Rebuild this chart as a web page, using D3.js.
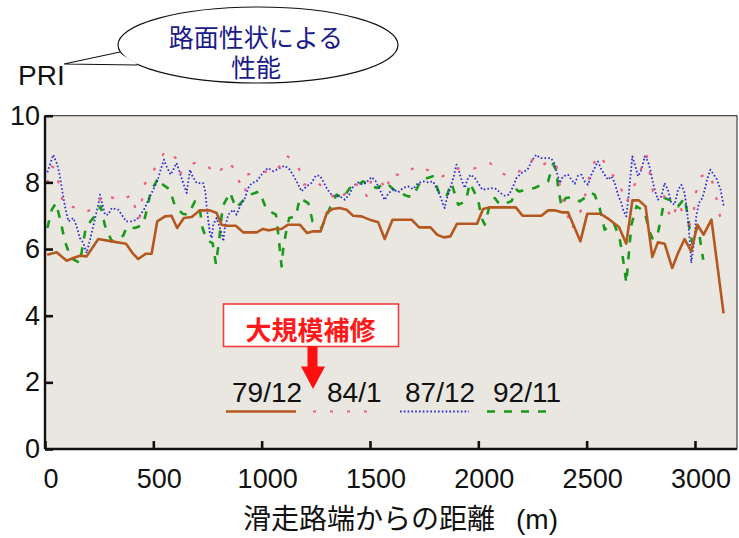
<!DOCTYPE html>
<html><head><meta charset="utf-8">
<script src="https://cdn.jsdelivr.net/npm/d3@7"></script>
<style>
html,body{margin:0;padding:0;background:#fff;}
svg{display:block;}
</style></head>
<body><svg id="c" width="739" height="538"></svg>
<script>
// ---- data ----
const xTicks = [0, 500, 1000, 1500, 2000, 2500, 3000];
const yTicks = [0, 2, 4, 6, 8, 10];
const seriesNames = ["79/12", "84/1", "87/12", "92/11"];

const dist79 = [10,54,100,131,161,192,246,308,374,404,430,466,492,518,554,584,610,641,677,715,761,792,815,838,881,915,977,1004,1035,1061,1092,1122,1176,1210,1238,1272,1302,1327,1361,1392,1422,1461,1507,1538,1568,1604,1692,1727,1779,1810,1841,1871,1902,1994,2022,2053,2173,2204,2291,2322,2353,2384,2414,2471,2503,2563,2606,2649,2683,2711,2741,2772,2803,2829,2860,2895,2922,2952,2983,3011,3040,3076,3132];
const pri79  = [5.83,5.9,5.65,5.73,5.8,5.78,6.3,6.23,6.16,5.88,5.7,5.86,5.86,6.83,6.98,7.0,6.63,6.93,6.96,7.16,7.16,7.08,6.73,6.7,6.7,6.5,6.5,6.6,6.56,6.6,6.6,6.73,6.73,6.48,6.53,6.53,7.1,7.2,7.23,7.18,7.0,6.98,6.86,6.8,6.3,6.88,6.88,6.65,6.65,6.43,6.35,6.38,6.76,6.76,7.2,7.25,7.25,7.0,7.0,7.16,7.16,7.1,7.1,6.23,7.06,7.06,6.88,6.66,6.16,7.46,7.46,7.28,5.76,6.2,6.16,5.43,5.88,6.3,5.93,6.73,6.43,6.88,4.07];

const dist84 = [11,31,54,66,88,123,180,235,266,346,404,420,435,446,458,538,554,589,610,626,666,700,743,792,846,887,907,923,933,992,1066,1112,1169,1195,1253,1300,1358,1415,1461,1487,1507,1548,1576,1595,1645,1718,1791,1835,1891,1930,1973,2053,2107,2142,2183,2260,2296,2330,2361,2384,2407,2430,2483,2499,2518,2533,2560,2603,2652,2683,2711,2737,2776,2806,2852,2875,2898,2918,2976,2995,3004,3029,3063,3082,3101,3117];
const pri84  = [7.98,8.48,8.38,7.83,7.3,7.28,7.1,7.23,7.66,7.45,7.63,7.1,6.88,7.4,7.93,8.73,8.96,8.8,8.7,8.28,8.53,8.6,8.53,8.23,8.63,8.28,7.73,7.68,8.23,8.33,8.3,8.83,8.48,7.93,8.03,7.73,7.43,7.93,7.93,7.56,8.1,8.08,7.73,8.28,8.2,8.5,8.3,8.18,8.4,8.43,8.4,8.58,8.28,8.18,8.3,8.73,8.5,8.68,8.48,7.63,7.13,6.58,7.28,7.8,8.33,8.58,8.83,8.38,7.93,7.38,7.78,8.16,8.83,7.73,7.73,7.13,6.88,7.4,6.73,7.16,7.68,8.18,8.28,7.98,7.46,6.93];

const dist87 = [11,38,57,69,84,92,108,131,146,161,177,192,208,226,246,254,277,292,308,338,354,374,400,423,441,461,477,492,507,523,534,549,561,580,592,607,623,638,654,669,681,700,730,741,746,753,761,769,777,792,815,823,830,846,869,884,907,923,938,954,977,1007,1030,1053,1084,1107,1130,1153,1169,1184,1207,1230,1250,1269,1284,1300,1315,1330,1361,1384,1404,1422,1445,1466,1484,1507,1527,1545,1568,1584,1607,1630,1653,1676,1699,1722,1745,1768,1791,1807,1822,1838,1845,1853,1868,1887,1899,1911,1922,1938,1949,1964,1984,1999,2019,2038,2061,2084,2102,2122,2142,2161,2176,2199,2227,2250,2268,2284,2307,2335,2350,2361,2376,2391,2414,2430,2445,2460,2476,2491,2506,2522,2537,2552,2568,2583,2598,2614,2629,2645,2660,2671,2683,2695,2702,2711,2727,2737,2753,2768,2783,2794,2806,2819,2829,2845,2860,2875,2891,2906,2922,2937,2952,2963,2972,2979,2983,2991,2999,3006,3018,3034,3045,3056,3071,3087,3102,3118,3133];
const pri87  = [8.3,8.83,8.53,8.18,7.58,7.28,6.83,6.93,6.68,6.33,6.18,5.88,6.28,6.78,7.33,7.63,7.03,7.03,7.23,7.18,7.03,6.83,6.83,6.88,7.03,7.23,7.48,7.68,7.88,8.13,8.38,8.68,8.48,8.23,8.38,8.58,8.28,7.98,7.68,8.38,8.18,7.98,7.98,7.68,7.28,6.88,6.48,6.33,6.73,6.93,6.48,6.23,6.63,7.03,7.18,7.03,7.38,7.53,7.83,7.98,8.03,8.3,8.43,8.33,8.43,8.5,8.38,8.13,7.93,7.73,7.88,7.98,8.2,8.2,8.03,7.83,7.68,7.6,7.58,7.48,7.63,7.88,8.0,7.93,8.0,8.16,8.03,7.78,7.47,7.66,7.8,7.7,7.83,7.88,7.8,7.98,8.03,8.0,8.03,7.83,7.63,7.33,7.23,7.48,7.78,8.18,8.53,8.33,8.08,7.83,8.08,8.23,8.13,7.98,7.78,7.8,7.83,7.8,7.68,7.6,7.63,7.88,8.13,8.28,8.38,8.68,8.83,8.73,8.73,8.73,8.58,8.33,7.98,8.18,8.23,8.08,7.96,8.2,8.23,8.03,7.93,8.23,8.43,8.63,8.38,8.23,8.08,8.18,8.0,7.63,7.38,7.13,6.98,7.68,8.18,8.78,8.43,8.18,8.38,8.78,8.63,8.38,7.98,7.68,7.48,7.58,7.98,7.78,7.38,7.33,7.78,7.93,7.68,7.18,6.58,5.98,5.58,5.98,6.38,6.98,7.38,7.53,7.78,8.08,8.38,8.23,8.08,7.78,7.28];

const dist92 = [11,31,51,72,92,119,161,174,189,231,257,277,308,361,377,415,453,472,488,523,534,577,600,635,661,692,715,727,746,774,789,804,820,854,881,930,946,989,1023,1066,1076,1084,1092,1099,1112,1127,1158,1176,1215,1235,1276,1315,1346,1376,1407,1435,1468,1502,1530,1560,1576,1619,1676,1699,1737,1791,1822,1853,1876,1907,1942,1961,1999,2015,2030,2053,2076,2099,2153,2176,2188,2260,2322,2345,2361,2368,2384,2403,2437,2468,2522,2537,2560,2583,2606,2625,2652,2665,2676,2683,2691,2699,2707,2730,2768,2787,2806,2829,2845,2860,2898,2922,2952,2967,2976,2988,2999,3015,3026,3038];
const pri92  = [6.63,7.18,7.38,6.83,6.23,5.73,5.58,6.1,6.66,7.0,7.28,6.7,6.23,6.4,6.66,6.63,6.73,7.23,7.73,8.13,7.98,7.78,7.28,7.06,7.03,7.43,7.18,6.63,6.28,6.17,5.55,6.28,7.28,7.7,7.23,7.56,7.63,7.73,7.18,7.03,6.48,5.98,5.48,5.98,6.48,6.93,6.98,7.53,7.38,6.83,6.63,7.23,7.63,7.53,7.83,7.88,8.03,7.9,7.83,7.93,7.98,7.73,7.58,7.58,8.08,8.18,7.63,7.58,7.98,7.33,7.43,7.98,7.48,6.93,6.73,7.33,7.53,7.33,7.43,7.78,7.73,7.83,8.03,8.55,8.35,7.85,7.28,7.53,7.56,7.43,7.68,7.63,7.23,6.58,6.68,6.78,6.33,5.83,5.33,4.98,5.58,6.18,6.73,7.28,7.13,6.58,6.28,6.48,6.98,7.53,7.43,7.28,7.53,6.98,6.58,6.18,6.48,6.68,6.18,5.68];

// ---- layout ----
const svg = d3.select("#c");
const L = 45, R = 737, T = 115.7, B = 449;
const x = d3.scaleLinear().domain([0, 3194]).range([L, R]);
const y = d3.scaleLinear().domain([0, 10]).range([B, T]);
const latin = "'Liberation Sans', Arial, Helvetica, sans-serif";
const cjk = "'Noto Sans CJK JP', 'Noto Sans CJK SC', sans-serif";

// plot background
svg.append("rect").attr("x", L).attr("y", T).attr("width", R - L).attr("height", B - T)
  .attr("fill", "#eae7e1").attr("stroke", "#222").attr("stroke-width", 1);

// series
const series = [
  {d: dist79, v: pri79, color: "#b4581f", w: 2.6, dash: null},
  {d: dist84, v: pri84, color: "#ef5a80", w: 2.2, dash: "3,14"},
  {d: dist87, v: pri87, color: "#2a2ad8", w: 1.8, dash: "1.6,2.2"},
  {d: dist92, v: pri92, color: "#1a9a1a", w: 2.6, dash: "8,9"}
];
const line = d3.line().x(p => x(p[0])).y(p => y(p[1]));
const g = svg.append("g");
series.slice().reverse().forEach(s => {
  g.append("path").datum(d3.zip(s.d, s.v))
    .attr("d", line).attr("fill", "none")
    .attr("stroke", s.color).attr("stroke-width", s.w)
    .attr("stroke-dasharray", s.dash)
    .attr("stroke-linejoin", "round");
});

// axes
const yAxis = d3.axisLeft(y).tickValues(yTicks).tickSize(-8).tickPadding(5).tickFormat(d3.format("d"));
const gy = svg.append("g").attr("transform", `translate(${L},0)`).call(yAxis);
const xAxis = d3.axisBottom(x).tickValues(xTicks).tickSize(-8).tickPadding(20).tickFormat(d3.format("d"));
const gx = svg.append("g").attr("transform", `translate(0,${B})`).call(xAxis);
[gx, gy].forEach(a => {
  a.select(".domain").attr("stroke", "#111").attr("stroke-width", 2.4);
  a.selectAll(".tick line").attr("stroke", "#111").attr("stroke-width", 2.6);
  a.selectAll("text").attr("font-family", latin).attr("font-size", 27).attr("fill", "#111");
});
gx.selectAll(".tick text").attr("dx", 5.5);
gy.select(".domain").attr("d", `M0,${T}V${B}`);
gx.select(".domain").attr("d", `M${L},0H${R}`);

// axis titles
svg.append("text").attr("x", 18).attr("y", 85).attr("font-family", latin).attr("font-size", 28)
  .attr("fill", "#111").text("PRI");
const xTitle = svg.append("text").attr("y", 529).attr("fill", "#111");
xTitle.append("tspan").attr("x", 243).attr("font-family", cjk).attr("font-size", 28).text("滑走路端からの距離");
xTitle.append("tspan").attr("x", 516).attr("font-family", latin).attr("font-size", 28).text("(m)");

// callout bubble
svg.append("ellipse").attr("cx", 258).attr("cy", 45).attr("rx", 140).attr("ry", 38)
  .attr("fill", "#fff").attr("stroke", "#111").attr("stroke-width", 1.2);
svg.append("path").attr("d", "M119,53 L66,64 L138,64").attr("fill", "#fff").attr("stroke", "none");
svg.append("path").attr("d", "M120,52 L64,64 L137,65").attr("fill", "none").attr("stroke", "#111").attr("stroke-width", 1.2);
const bubbleText = ["路面性状による", "性能"];
const bt = svg.append("text").attr("text-anchor", "middle")
  .attr("font-family", cjk).attr("font-size", 25).attr("fill", "#1a1a8a");
bubbleText.forEach((d, i) => bt.append("tspan").attr("x", 256).attr("y", 47 + i * 30).text(d));

// annotation box + arrow
svg.append("rect").attr("x", 223.5).attr("y", 304).attr("width", 175).attr("height", 42.5)
  .attr("fill", "#fff").attr("stroke", "#f03c3c").attr("stroke-width", 1.6);
svg.append("text").attr("x", 310.5).attr("y", 328).attr("text-anchor", "middle")
  .attr("dominant-baseline", "central").attr("font-family", cjk).attr("font-weight", "bold")
  .attr("font-size", 26).attr("fill", "#ff1a1a").text("大規模補修");
svg.append("path").attr("d", "M307.5,346.5 H317.5 V366.5 H325 L313,389 L301,366.5 H307.5 Z")
  .attr("fill", "#ff1010");

// legend
const legendX = [232, 327, 405, 493];
const lineX = [[226, 296], [313, 372], [400, 469], [487, 549]];
const lg = svg.append("g");
seriesNames.forEach((name, i) => {
  lg.append("text").attr("x", legendX[i]).attr("y", 401.7).attr("font-family", latin)
    .attr("font-size", 28).attr("fill", "#111").text(name);
  lg.append("line").attr("x1", lineX[i][0]).attr("x2", lineX[i][1]).attr("y1", 411.5).attr("y2", 411.5)
    .attr("stroke", series[i].color).attr("stroke-width", series[i].w)
    .attr("stroke-dasharray", series[i].dash);
});
</script></body></html>
